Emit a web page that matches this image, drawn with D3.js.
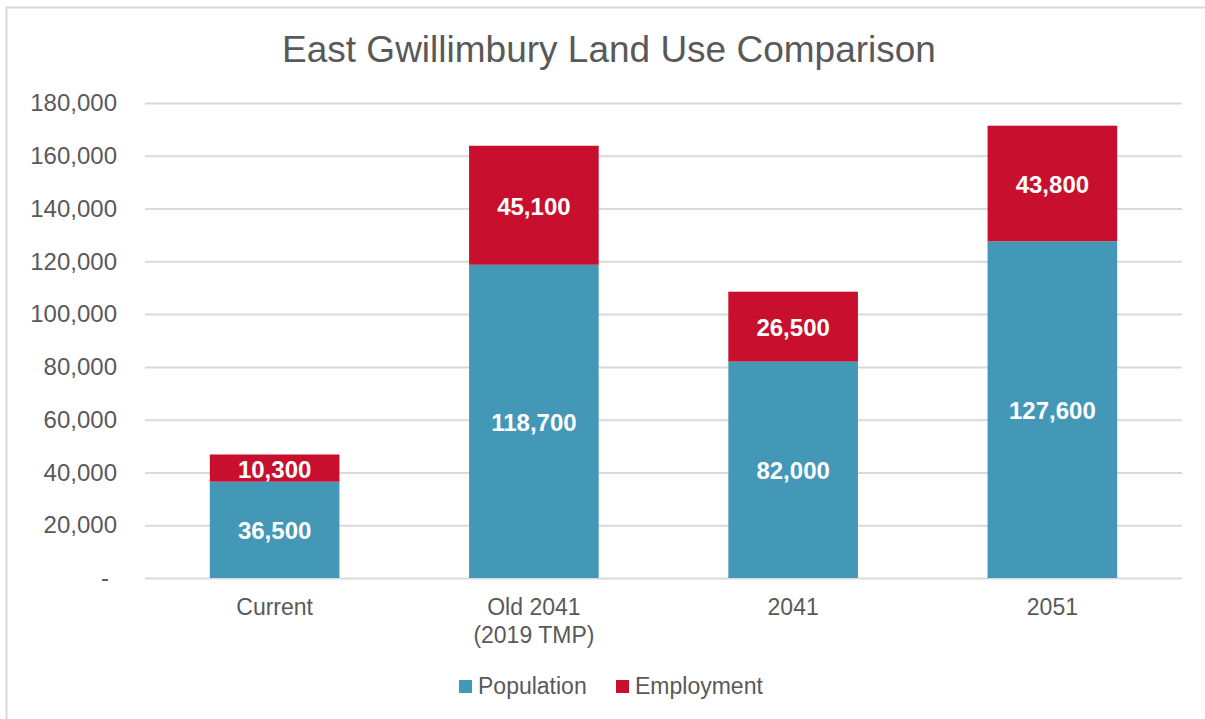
<!DOCTYPE html>
<html>
<head>
<meta charset="utf-8">
<script src="https://cdn.jsdelivr.net/npm/d3@7"></script>
<style>
  html, body { margin: 0; padding: 0; background: #fff; overflow: hidden; }
  svg { display: block; }
  text { font-family: "Liberation Sans", Arial, sans-serif; }
</style>
</head>
<body>
<script>
/* data */
var categories = [['Current'], ['Old 2041', '(2019 TMP)'], ['2041'], ['2051']];
var population = [36500, 118700, 82000, 127600];
var employment = [10300, 45100, 26500, 43800];
var seriesNames = ['Population', 'Employment'];
var yTicks = [0, 20000, 40000, 60000, 80000, 100000, 120000, 140000, 160000, 180000];

/* layout */
var width = 1205;
var height = 719;
var margin = { top: 103, right: 23, bottom: 141, left: 145 };
var innerWidth = width - margin.left - margin.right;
var innerHeight = height - margin.top - margin.bottom;

var colours = { Population: '#4398B7', Employment: '#C8102E' };

var svg = d3.select('body').append('svg')
  .attr('width', width)
  .attr('height', height);

// outer chart frame (only left/top edges fall inside the picture)
svg.append('path')
  .attr('d', 'M6.5,' + height + 'V7.5H' + width)
  .attr('fill', 'none')
  .attr('stroke', '#D9D9D9')
  .attr('stroke-width', 2);

svg.append('text')
  .attr('x', 609).attr('y', 62)
  .attr('text-anchor', 'middle')
  .attr('fill', '#595959')
  .style('font-size', '37px')
  .text('East Gwillimbury Land Use Comparison');

var g = svg.append('g')
  .attr('transform', 'translate(' + margin.left + ',' + margin.top + ')');

var x = d3.scaleBand()
  .domain(d3.range(categories.length))
  .range([0, innerWidth])
  .paddingInner(0.5)
  .paddingOuter(0.25);

var y = d3.scaleLinear()
  .domain([0, 180000])
  .range([innerHeight, 0]);

// gridlines + y labels
var yAxis = d3.axisLeft(y)
  .tickValues(yTicks)
  .tickSize(-innerWidth)
  .tickPadding(28)
  .tickFormat(function (d) { return d === 0 ? '-' : d3.format(',')(d); });

var yg = g.append('g').call(yAxis);
yg.select('.domain').remove();
yg.selectAll('.tick line').attr('stroke', '#D9D9D9').attr('stroke-width', 2);
yg.selectAll('.tick text')
  .attr('fill', '#595959')
  .style('font-size', '24px')
  .attr('dx', function (d) { return d === 0 ? '-8' : 0; });

// stacked bars
var rows = categories.map(function (c, i) {
  return { i: i, Population: population[i], Employment: employment[i] };
});
var stacked = d3.stack().keys(seriesNames)(rows);

var layers = g.selectAll('.layer')
  .data(stacked)
  .enter().append('g')
  .attr('class', 'layer')
  .attr('fill', function (d) { return colours[d.key]; });

layers.selectAll('rect')
  .data(function (d) { return d; })
  .enter().append('rect')
  .attr('x', function (d) { return x(d.data.i); })
  .attr('width', x.bandwidth())
  .attr('y', function (d) { return y(d[1]); })
  .attr('height', function (d) { return y(d[0]) - y(d[1]); });

layers.selectAll('text')
  .data(function (d) { return d; })
  .enter().append('text')
  .attr('x', function (d) { return x(d.data.i) + x.bandwidth() / 2; })
  .attr('y', function (d) { return (y(d[0]) + y(d[1])) / 2; })
  .attr('dy', '0.4em')
  .attr('text-anchor', 'middle')
  .attr('fill', '#fff')
  .style('font-size', '24px')
  .style('font-weight', 'bold')
  .text(function (d) { return d3.format(',')(d[1] - d[0]); });

// x labels
var xl = g.selectAll('.xlabel')
  .data(categories)
  .enter().append('text')
  .attr('class', 'xlabel')
  .attr('text-anchor', 'middle')
  .attr('fill', '#595959')
  .style('font-size', '23px')
  .attr('transform', function (d, i) {
    return 'translate(' + (x(i) + x.bandwidth() / 2) + ',' + (innerHeight + 37) + ')';
  });
xl.selectAll('tspan')
  .data(function (d) { return d; })
  .enter().append('tspan')
  .attr('x', 0)
  .attr('y', function (d, j) { return j * 28; })
  .text(function (d) { return d; });

// legend
var legendX = [459, 616];
var legend = svg.selectAll('.legend')
  .data(seriesNames)
  .enter().append('g')
  .attr('class', 'legend')
  .attr('transform', function (d, i) { return 'translate(' + legendX[i] + ',680)'; });

legend.append('rect')
  .attr('width', 13).attr('height', 13)
  .attr('fill', function (d) { return colours[d]; });

legend.append('text')
  .attr('x', 19).attr('y', 14)
  .attr('fill', '#595959')
  .style('font-size', '23px')
  .text(function (d) { return d; });
</script>
</body>
</html>
